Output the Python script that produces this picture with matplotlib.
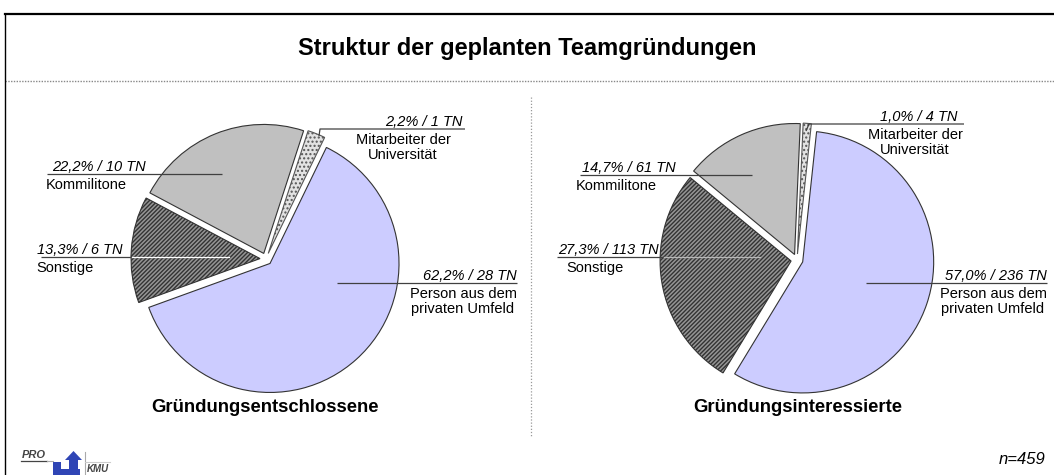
import matplotlib
matplotlib.use("Agg")
import matplotlib.pyplot as plt
from matplotlib.patches import Polygon, Rectangle

# ================= DATA =================
TITLE = "Struktur der geplanten Teamgründungen"
GROUPS = ["Gründungsentschlossene", "Gründungsinteressierte"]
CATEGORIES = ["Mitarbeiter der\nUniversität", "Person aus dem\nprivaten Umfeld", "Sonstige", "Kommilitone"]
LEFT_PCT = [2.2, 62.2, 13.3, 22.2]
LEFT_TN = [1, 28, 6, 10]
RIGHT_PCT = [1.0, 57.0, 27.3, 14.7]
RIGHT_TN = [4, 236, 113, 61]
N_TOTAL = 459

# ================= STYLE / LAYOUT =================
W, H = 1054, 475
FONT = "Liberation Sans"
FACE = ["#e2e2e2", "#ccccff", "#959595", "#c0c0c0"]
HATCH = ["....", None, "////////", None]
EDGE = "#333333"
LEAD = "#404040"
LABEL_FS = 10.5

# pie placement in image pixels (x, y from top); explode is in pixels
PIES = [
    dict(center=(266, 259), radius=129, start=72, explode=6, title_xy=(265, 408)),
    dict(center=(797, 260), radius=131, start=87.5, explode=6, title_xy=(798, 408)),
]

# per category: leader points, value text (x, ha), name text (x, ha), inner part colour
LABELS = [
    [  # left pie
        dict(pts=[(319, 136), (320, 129), (465, 129)], vx=463, vha="right", nx=403, nha="center"),
        dict(pts=[(337, 283), (517, 283)], vx=517, vha="right", nx=463, nha="center"),
        dict(pts=[(41, 257), (229, 257)], vx=37, vha="left", nx=36, nha="left", inner=(132, "white")),
        dict(pts=[(47, 174), (222, 174)], vx=52, vha="left", nx=46, nha="left"),
    ],
    [  # right pie
        dict(pts=[(806, 131), (809, 124), (964, 124)], vx=957, vha="right", nx=915, nha="center"),
        dict(pts=[(866, 283), (1047, 283)], vx=1047, vha="right", nx=993, nha="center"),
        dict(pts=[(557, 257), (760, 257)], vx=558, vha="left", nx=566, nha="left", inner=(664, "#b8b8b8")),
        dict(pts=[(580, 175), (752, 175)], vx=582, vha="left", nx=576, nha="left"),
    ],
]

plt.rcParams["font.family"] = [FONT, "DejaVu Sans"]
plt.rcParams["hatch.linewidth"] = 1.0


def Y(y):
    return H - y


def fmt_value(p, n):
    return f"{p:.1f}".replace(".", ",") + f"% / {n} TN"


fig = plt.figure(figsize=(W / 100, H / 100), dpi=100)
ax = fig.add_axes([0, 0, 1, 1])

for k, (pct, tn) in enumerate([(LEFT_PCT, LEFT_TN), (RIGHT_PCT, RIGHT_TN)]):
    p = PIES[k]
    cx, cy = p["center"]
    wedges, _ = ax.pie(pct, colors=FACE, startangle=p["start"], counterclock=False,
                       center=(cx, Y(cy)), radius=p["radius"], frame=True,
                       explode=[p["explode"]] * len(pct),
                       wedgeprops=dict(edgecolor=EDGE, linewidth=0.8))
    for w, h in zip(wedges, HATCH):
        if h:
            w.set_hatch(h)
    wedges[0].set_edgecolor("#555555")

    for i, lab in enumerate(LABELS[k]):
        xs = [q[0] for q in lab["pts"]]
        ys = [Y(q[1]) for q in lab["pts"]]
        ax.plot(xs, ys, color=LEAD, lw=0.9, zorder=5, solid_capstyle="butt")
        if "inner" in lab:
            sx, col = lab["inner"]
            ax.plot([sx, lab["pts"][-1][0]], [ys[-1], ys[-1]], color=col, lw=0.9, zorder=6)
        ly = lab["pts"][-1][1]
        ax.text(lab["vx"], Y(ly - 3), fmt_value(pct[i], tn[i]), ha=lab["vha"], va="baseline",
                fontsize=LABEL_FS, style="italic", color="black", zorder=7)
        ax.text(lab["nx"], Y(ly + 4), CATEGORIES[i], ha=lab["nha"], va="top",
                fontsize=LABEL_FS, linespacing=1.1, multialignment="center", zorder=7)

    tx, ty = p["title_xy"]
    ax.text(tx, Y(ty), GROUPS[k], ha="center", va="center", fontsize=13.3, fontweight="bold")

# title and separators
ax.text(527, Y(48), TITLE, ha="center", va="center", fontsize=17, fontweight="bold")
ax.plot([5, W], [Y(81), Y(81)], color="#888888", lw=1.0, ls=(0, (1, 1)))
ax.plot([531, 531], [Y(97), Y(437)], color="#999999", lw=0.9, ls=(0, (1, 1.5)))

# outer frame (top and left visible)
ax.plot([5, W], [Y(14), Y(14)], color="black", lw=1.6)
ax.plot([5, 5], [Y(14), Y(H)], color="black", lw=1.0)

ax.text(1045, Y(459), f"n={N_TOTAL}", ha="right", va="center", fontsize=12, style="italic")

# logo
ax.text(22, Y(458), "PRO", ha="left", va="baseline", fontsize=8, style="italic",
        fontweight="bold", color="#444444")
ax.plot([21, 47], [Y(461), Y(461)], color="#444444", lw=0.9)
ax.plot([47, 53], [Y(461), Y(461)], color="#aaaaaa", lw=0.8)
blue = "#2f45b5"
ax.add_patch(Rectangle((53, Y(475)), 8, 13, color=blue, lw=0))
ax.add_patch(Rectangle((53, Y(475)), 27, 6, color=blue, lw=0))
ax.add_patch(Rectangle((69, Y(475)), 9, 16, color=blue, lw=0))
ax.add_patch(Polygon([(65, Y(460)), (82, Y(460)), (73.5, Y(451))], closed=True, color=blue, lw=0))
ax.plot([85, 85], [Y(452), Y(475)], color="#aaaaaa", lw=0.8)
ax.plot([85, 110], [Y(462), Y(462)], color="#cccccc", lw=0.8)
ax.text(87, Y(474), "KMU", ha="left", va="bottom", fontsize=7, style="italic",
        fontweight="bold", color="#444444")

ax.set_xlim(0, W)
ax.set_ylim(0, H)
ax.set_aspect("equal")
ax.axis("off")

fig.savefig("out.png", dpi=100, facecolor="white")
